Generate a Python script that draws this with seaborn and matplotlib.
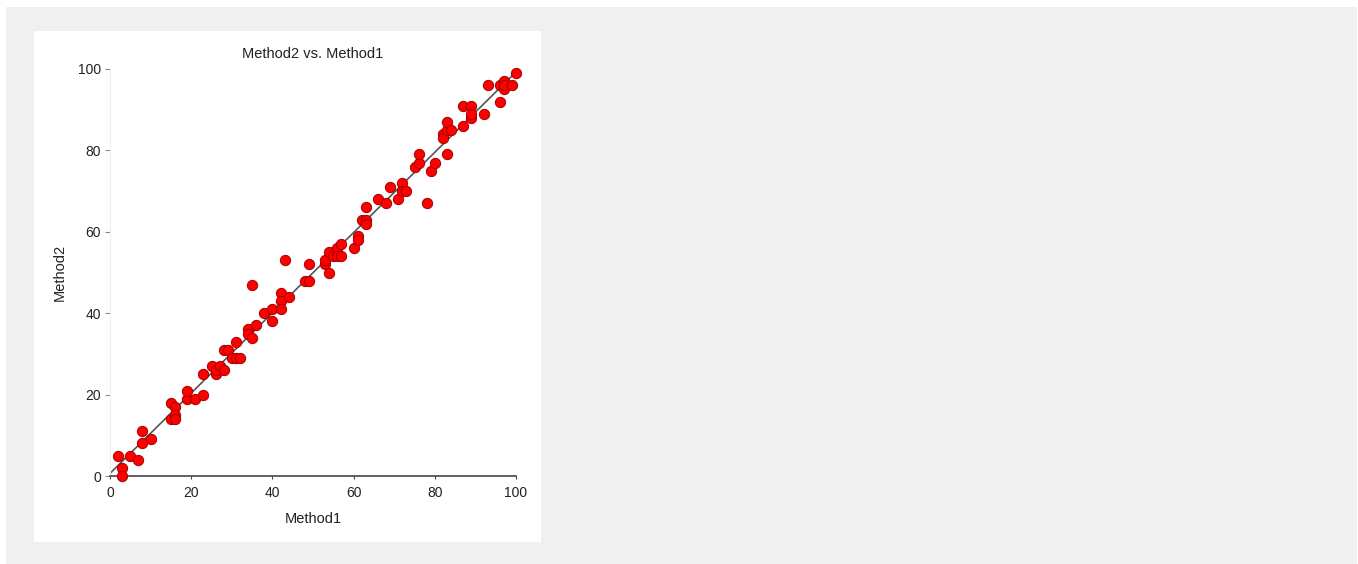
import numpy as np
import pandas as pd
import matplotlib
matplotlib.use("Agg")
import matplotlib.pyplot as plt
import seaborn as sns
from matplotlib.patches import Rectangle

# Values
method1 = [2, 3, 3, 5, 7, 8, 8, 10, 15, 15, 16, 16, 16, 19, 19, 21, 23, 23,
           25, 26, 26, 27, 28, 28, 29, 30, 31, 31, 32, 34, 34, 35, 35, 36, 38,
           40, 40, 42, 42, 42, 43, 44, 48, 49, 49, 53, 53, 54, 54, 55, 56, 56,
           57, 57, 60, 61, 61, 62, 63, 63, 63, 66, 68, 69, 71, 72, 72, 73, 75,
           76, 76, 78, 79, 80, 82, 82, 83, 83, 83, 84, 87, 87, 89, 89, 89, 92,
           93, 96, 96, 97, 97, 97, 99, 100]
method2 = [5, 2, 0, 5, 4, 8, 11, 9, 18, 14, 17, 15, 14, 19, 21, 19, 20, 25,
           27, 25, 26, 27, 26, 31, 31, 29, 33, 29, 29, 36, 35, 34, 47, 37, 40,
           41, 38, 45, 43, 41, 53, 44, 48, 48, 52, 52, 53, 55, 50, 54, 56, 54,
           57, 54, 56, 59, 58, 63, 63, 62, 66, 68, 67, 71, 68, 72, 70, 70, 76,
           77, 79, 67, 75, 77, 84, 83, 85, 79, 87, 85, 91, 86, 91, 88, 89, 89,
           96, 92, 96, 95, 97, 96, 96, 99]
axis_ticks = [0, 20, 40, 60, 80, 100]

df = pd.DataFrame({"Method1": method1, "Method2": method2})

sns.set_style("white")
plt.rcParams["font.family"] = ["Liberation Sans", "DejaVu Sans"]

W, H = 1358, 564
fig = plt.figure(figsize=(W / 100, H / 100), dpi=100)
fig.patch.set_facecolor("white")
# grey page, then the white panel behind the chart
fig.patches.append(Rectangle((6 / W, 0), (W - 7) / W, (H - 7) / H,
                             transform=fig.transFigure, facecolor="#f0f0f0",
                             edgecolor="none", zorder=-20))
fig.patches.append(Rectangle((34 / W, 1 - 542 / H), 507 / W, 511 / H,
                             transform=fig.transFigure, facecolor="white",
                             edgecolor="none", zorder=-10))

ax = fig.add_axes([110 / W, 1 - 476 / H, 406 / W, 407 / H])
ax.set_facecolor("none")

# fitted line across the full axis range
slope, intercept = np.polyfit(df["Method1"], df["Method2"], 1)
xs = np.array([0, 100])
ax.plot(xs, slope * xs + intercept, color="#555555", lw=1.2, zorder=2)

sns.scatterplot(data=df, x="Method1", y="Method2", ax=ax, s=55,
                color="#ff0000", edgecolor="#a00000", linewidth=0.7,
                zorder=3, clip_on=False)

ax.set_xlim(0, 100)
ax.set_ylim(0, 100)
ax.set_xticks(axis_ticks)
ax.set_yticks(axis_ticks)
ax.tick_params(axis="both", labelsize=10, labelcolor="#222222",
               width=0.8, direction="out", left=True, bottom=True)
ax.tick_params(axis="y", color="#888888", length=3.5, pad=3)
ax.tick_params(axis="x", color="#444444", length=2.5, pad=5)

for side in ["top", "right"]:
    ax.spines[side].set_visible(False)
ax.spines["left"].set_color("#eeeeee")
ax.spines["bottom"].set_color("#444444")
ax.spines["bottom"].set_linewidth(1.2)

ax.set_title("Method2 vs. Method1", fontsize=10.5, color="#222222", pad=8)
ax.set_xlabel("Method1", fontsize=10.5, color="#222222", labelpad=8)
ax.set_ylabel("Method2", fontsize=10.5, color="#222222", labelpad=8)

fig.savefig("out.png", dpi=100, facecolor=fig.get_facecolor())
